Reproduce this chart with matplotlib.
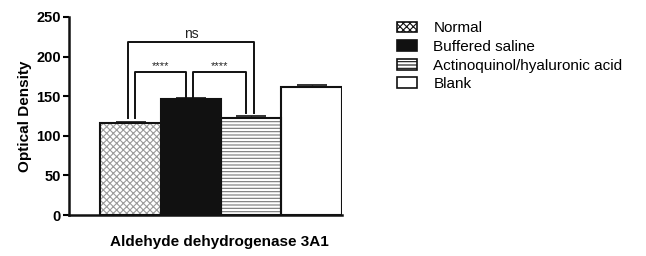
import matplotlib.pyplot as plt
from matplotlib.patches import Patch

plt.rcParams['font.family'] = ['Liberation Sans', 'DejaVu Sans']
plt.rcParams['hatch.linewidth'] = 0.8

groups = ['Normal', 'Buffered saline', 'Actinoquinol/hyaluronic acid', 'Blank']
values = [116, 146, 123, 162]
errors = [2, 2, 2.5, 1.5]
yticks = [0, 50, 100, 150, 200, 250]

fig = plt.figure(figsize=(6.46, 2.56), dpi=100)
ax = fig.add_axes([0.107, 0.16, 0.422, 0.774])

faces = ['white', '#111111', 'white', 'white']
hatches = ['xxxxx', '', '-----', '']
hatch_cols = ['#9a9a9a', '#111111', '#777777', '#111111']
xs = list(range(len(values)))
for i in xs:
    ax.bar(i, values[i], width=1.0, color=faces[i], edgecolor=hatch_cols[i],
           hatch=hatches[i], linewidth=0, zorder=2)
    ax.bar(i, values[i], width=1.0, color='none', edgecolor='#111111', linewidth=1.5, zorder=3)
    ax.errorbar(i, values[i], yerr=[[0], [errors[i]]], ecolor='#111111', capsize=11,
                elinewidth=1, capthick=1.2, zorder=4)

# significance brackets
def bracket(x1, x2, y, h1, h2, label, fs, dy):
    ax.plot([x1, x1, x2, x2], [h1, y, y, h2], color='#111111', lw=1.4, zorder=5)
    ax.text((x1 + x2) / 2, y + dy, label, ha='center', va='bottom', fontsize=fs, color='#222222')

bracket(-0.04, 2.04, 218, 122, 129, 'ns', 10, 2)
bracket(0.07, 0.92, 180, 122, 149, '****', 8, 2)
bracket(1.03, 1.91, 180, 149, 129, '****', 8, 2)

ax.set_xlim(-1.02, 3.5)
ax.set_ylim(0, 250)
ax.set_yticks(yticks)
ax.set_xticks([])
for s in ['top', 'right']:
    ax.spines[s].set_visible(False)
for s in ['left', 'bottom']:
    ax.spines[s].set_linewidth(1.8)
    ax.spines[s].set_color('#111111')
ax.tick_params(axis='y', direction='out', length=4, width=1.5, labelsize=10.5, pad=2)
for t in ax.get_yticklabels():
    t.set_fontweight('bold')
ax.set_ylabel('Optical Density', fontsize=11, fontweight='bold', labelpad=3)
ax.set_xlabel('Aldehyde dehydrogenase 3A1', fontsize=11, fontweight='bold', labelpad=14)
ax.xaxis.set_label_coords(0.55, -0.1, transform=ax.transAxes)
ax.xaxis.label.set_va('top')

handles = [Patch(facecolor=faces[i], edgecolor='#111111', hatch=hatches[i], linewidth=1.2)
           for i in xs]
fig.legend(handles, groups, loc='upper left', bbox_to_anchor=(0.594, 0.97), frameon=False,
           fontsize=11, handlelength=1.25, handleheight=0.7, labelspacing=0.3, handletextpad=1.1)

fig.savefig('out.png', dpi=100)
